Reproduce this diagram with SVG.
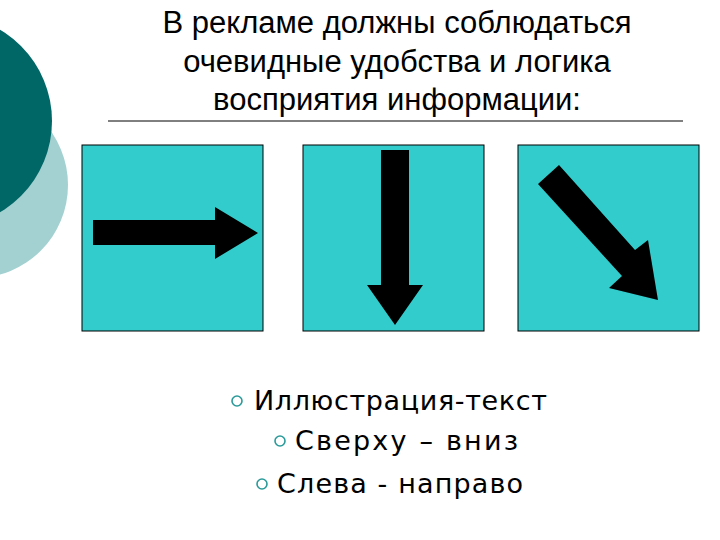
<svg xmlns="http://www.w3.org/2000/svg" width="720" height="540" viewBox="0 0 720 540">
<style>
.t{font-family:"Liberation Sans",Arial,sans-serif;font-size:31px;fill:#000;text-anchor:middle}
.b{font-family:"DejaVu Sans",Verdana,sans-serif;font-size:27px;fill:#000}
.box{fill:#33CCCC;stroke:#000;stroke-width:1}
.bul{fill:none;stroke:#2a9a9a;stroke-width:1.6}
</style>
<rect width="720" height="540" fill="#fff"/>
<g id="decor">
<circle cx="-25" cy="185" r="93" fill="#a3d1d1"/>
<circle cx="-54" cy="121" r="106" fill="#006666"/>
</g>
<g id="title">
<text class="t" x="397" y="33">В рекламе должны соблюдаться</text>
<text class="t" x="397" y="72">очевидные удобства и логика</text>
<text class="t" x="397" y="110">восприятия информации:</text>
<line x1="108" y1="121" x2="683" y2="121" stroke="#000" stroke-width="1"/>
</g>
<g id="box1"><rect class="box" x="82" y="145" width="181" height="186"/>
<polygon points="93,220 215,220 215,207 258,233 215,259 215,245 93,245" fill="#000"/></g>
<g id="box2"><rect class="box" x="303" y="145" width="181" height="186"/>
<polygon points="381,150 409,150 409,285 423,285 395,325 367,285 381,285" fill="#000"/></g>
<g id="box3"><rect class="box" x="518" y="145" width="181" height="186"/>
<polygon points="538,184 559,165 635,250 648,240 658,300 609,288 622,276" fill="#000"/></g>
<g id="bullets">
<circle class="bul" cx="237" cy="401" r="5"/>
<text class="b" x="254" y="410" textLength="293">Иллюстрация-текст</text>
<circle class="bul" cx="280" cy="441" r="5"/>
<text class="b" x="295" y="450" textLength="223">Сверху – вниз</text>
<circle class="bul" cx="262" cy="484" r="5"/>
<text class="b" x="277" y="493" textLength="246">Слева - направо</text>
</g>
</svg>
